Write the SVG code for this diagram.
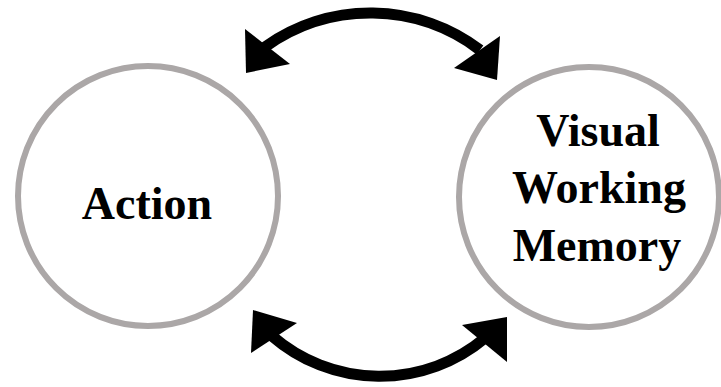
<svg xmlns="http://www.w3.org/2000/svg" width="721" height="387" viewBox="0 0 721 387">
<style>
.node circle{fill:#fff;stroke:#aba7a7;stroke-width:6}
.lbl{font-family:"Liberation Serif","Times New Roman",serif;font-weight:bold;font-size:46px;fill:#000;text-anchor:middle}
.arc{fill:none;stroke:#000;stroke-width:11}
.head{fill:#000}
</style>
<rect width="721" height="387" fill="#fff"/>
<g id="action" class="node">
<circle cx="148" cy="196" r="130"/>
<text class="lbl" x="147" y="219">Action</text>
</g>
<g id="vwm" class="node">
<circle cx="589" cy="197" r="130"/>
<text class="lbl" x="598" y="146">Visual</text>
<text class="lbl" x="599" y="203">Working</text>
<text class="lbl" x="597" y="261">Memory</text>
</g>
<g id="connectors">
<path class="arc" d="M265,47 A181,181 0 0 1 480,50"/>
<polygon class="head" points="246,73 245,29 290,64"/>
<polygon class="head" points="497,80 500,36 454,68"/>
<path class="arc" d="M272,336 A164,164 0 0 0 485,338"/>
<polygon class="head" points="253,310 297,323 251,353"/>
<polygon class="head" points="507,317 462,325 507,362"/>
</g>
</svg>
